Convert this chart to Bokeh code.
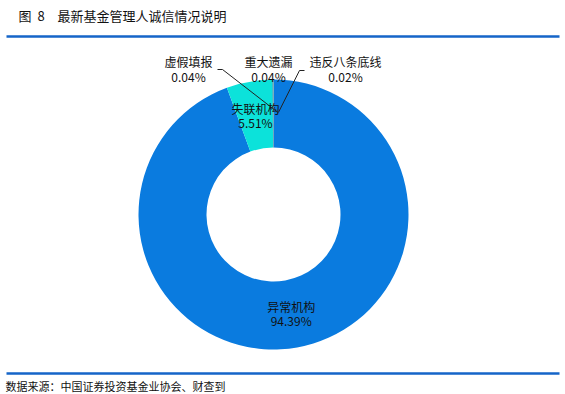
import math
from bokeh.plotting import figure
from bokeh.models import Range1d, ColumnDataSource
from bokeh.core.properties import value
from bokeh.embed import file_html
from bokeh.resources import INLINE

# ---- data ----
categories = ["异常机构", "失联机构", "虚假填报", "重大遗漏", "违反八条底线"]
shares = [94.39, 5.51, 0.04, 0.04, 0.02]
labels_pct = ["94.39%", "5.51%", "0.04%", "0.04%", "0.02%"]
slice_colors = ["#0A7BDF", "#0CE2DA", "#1F4E8C", "#2A9D8F", "#F4A261"]

title_text = "最新基金管理人诚信情况说明"
source_text = "数据来源：中国证券投资基金业协会、财查到"

FONT = "Noto Sans CJK SC"
W, H = 565, 394
# data coords == page pixels (x), y = 394 - page_y
def Y(py):
    return 394 - py

p = figure(width=W, height=H, output_backend="svg", toolbar_location=None,
           x_range=Range1d(0, W), y_range=Range1d(0, H),
           min_border=0)
p.axis.visible = False
p.grid.visible = False
p.outline_line_color = None
p.background_fill_color = "white"
p.border_fill_color = "white"

# header / footer
p.text(x=[18], y=[Y(15)], text=["图"], text_font=value(FONT), text_font_size="13px",
       text_baseline="middle", text_color="#111111")
p.text(x=[37], y=[Y(15)], text=["8"], text_font=value(FONT), text_font_size="13px",
       text_baseline="middle", text_color="#111111")
p.text(x=[57], y=[Y(15)], text=[title_text], text_font=value(FONT), text_font_size="13px",
       text_baseline="middle", text_color="#111111")
p.segment(x0=[6], y0=[Y(36)], x1=[559], y1=[Y(36)], line_color="#1565C8", line_width=2.5)
p.segment(x0=[6], y0=[Y(373)], x1=[559], y1=[Y(373)], line_color="#1565C8", line_width=2.5)
p.text(x=[5], y=[Y(385)], text=[source_text], text_font=value(FONT), text_font_size="11px",
       text_baseline="middle", text_color="#111111")

# donut
cx, cy = 273, Y(214)
r_in, r_out = 67, 135
total = sum(shares)
starts, ends, mids = [], [], []
cum = 0.0
for s in shares:
    a0 = math.pi / 2 - cum / total * 2 * math.pi
    cum += s
    a1 = math.pi / 2 - cum / total * 2 * math.pi
    starts.append(a0)
    ends.append(a1)
    mids.append((a0 + a1) / 2)

src = ColumnDataSource(dict(start=starts, end=ends, color=slice_colors))
p.annular_wedge(x=cx, y=cy, inner_radius=r_in, outer_radius=r_out,
                start_angle="start", end_angle="end", direction="clock",
                fill_color="color", line_color=None, source=src)

r_mid = (r_in + r_out) / 2
# inside labels for the two big slices
for i in range(2):
    lx = cx + r_mid * math.cos(mids[i])
    ly = cy + r_mid * math.sin(mids[i])
    p.text(x=[lx, lx], y=[ly + 7, ly - 7], text=[categories[i], labels_pct[i]],
           text_font=value(FONT), text_font_size="12px", text_align="center",
           text_baseline="middle", text_color="#111111")

# outside labels for tiny slices
out_pos = [(188, 61), (268, 61), (345, 61)]
for k, i in enumerate(range(2, 5)):
    lx, py = out_pos[k]
    p.text(x=[lx, lx], y=[Y(py), Y(py + 15)], text=[categories[i], labels_pct[i]],
           text_font=value(FONT), text_font_size="12px", text_align="center",
           text_baseline="middle", text_color="#111111")

# leader lines
ex = cx + r_mid * math.cos(mids[2]) + 5
ey = cy + r_mid * math.sin(mids[2]) + 1
p.line(x=[217, 222, ex], y=[Y(69), Y(69), ey], line_color="#222222", line_width=1)
ex2 = cx + r_mid * math.cos(mids[4]) + 5
ey2 = cy + r_mid * math.sin(mids[4]) + 1
p.line(x=[304, 299, ex2], y=[Y(70), Y(70), ey2], line_color="#222222", line_width=1)

open("out.html", "w").write(file_html(p, INLINE))
